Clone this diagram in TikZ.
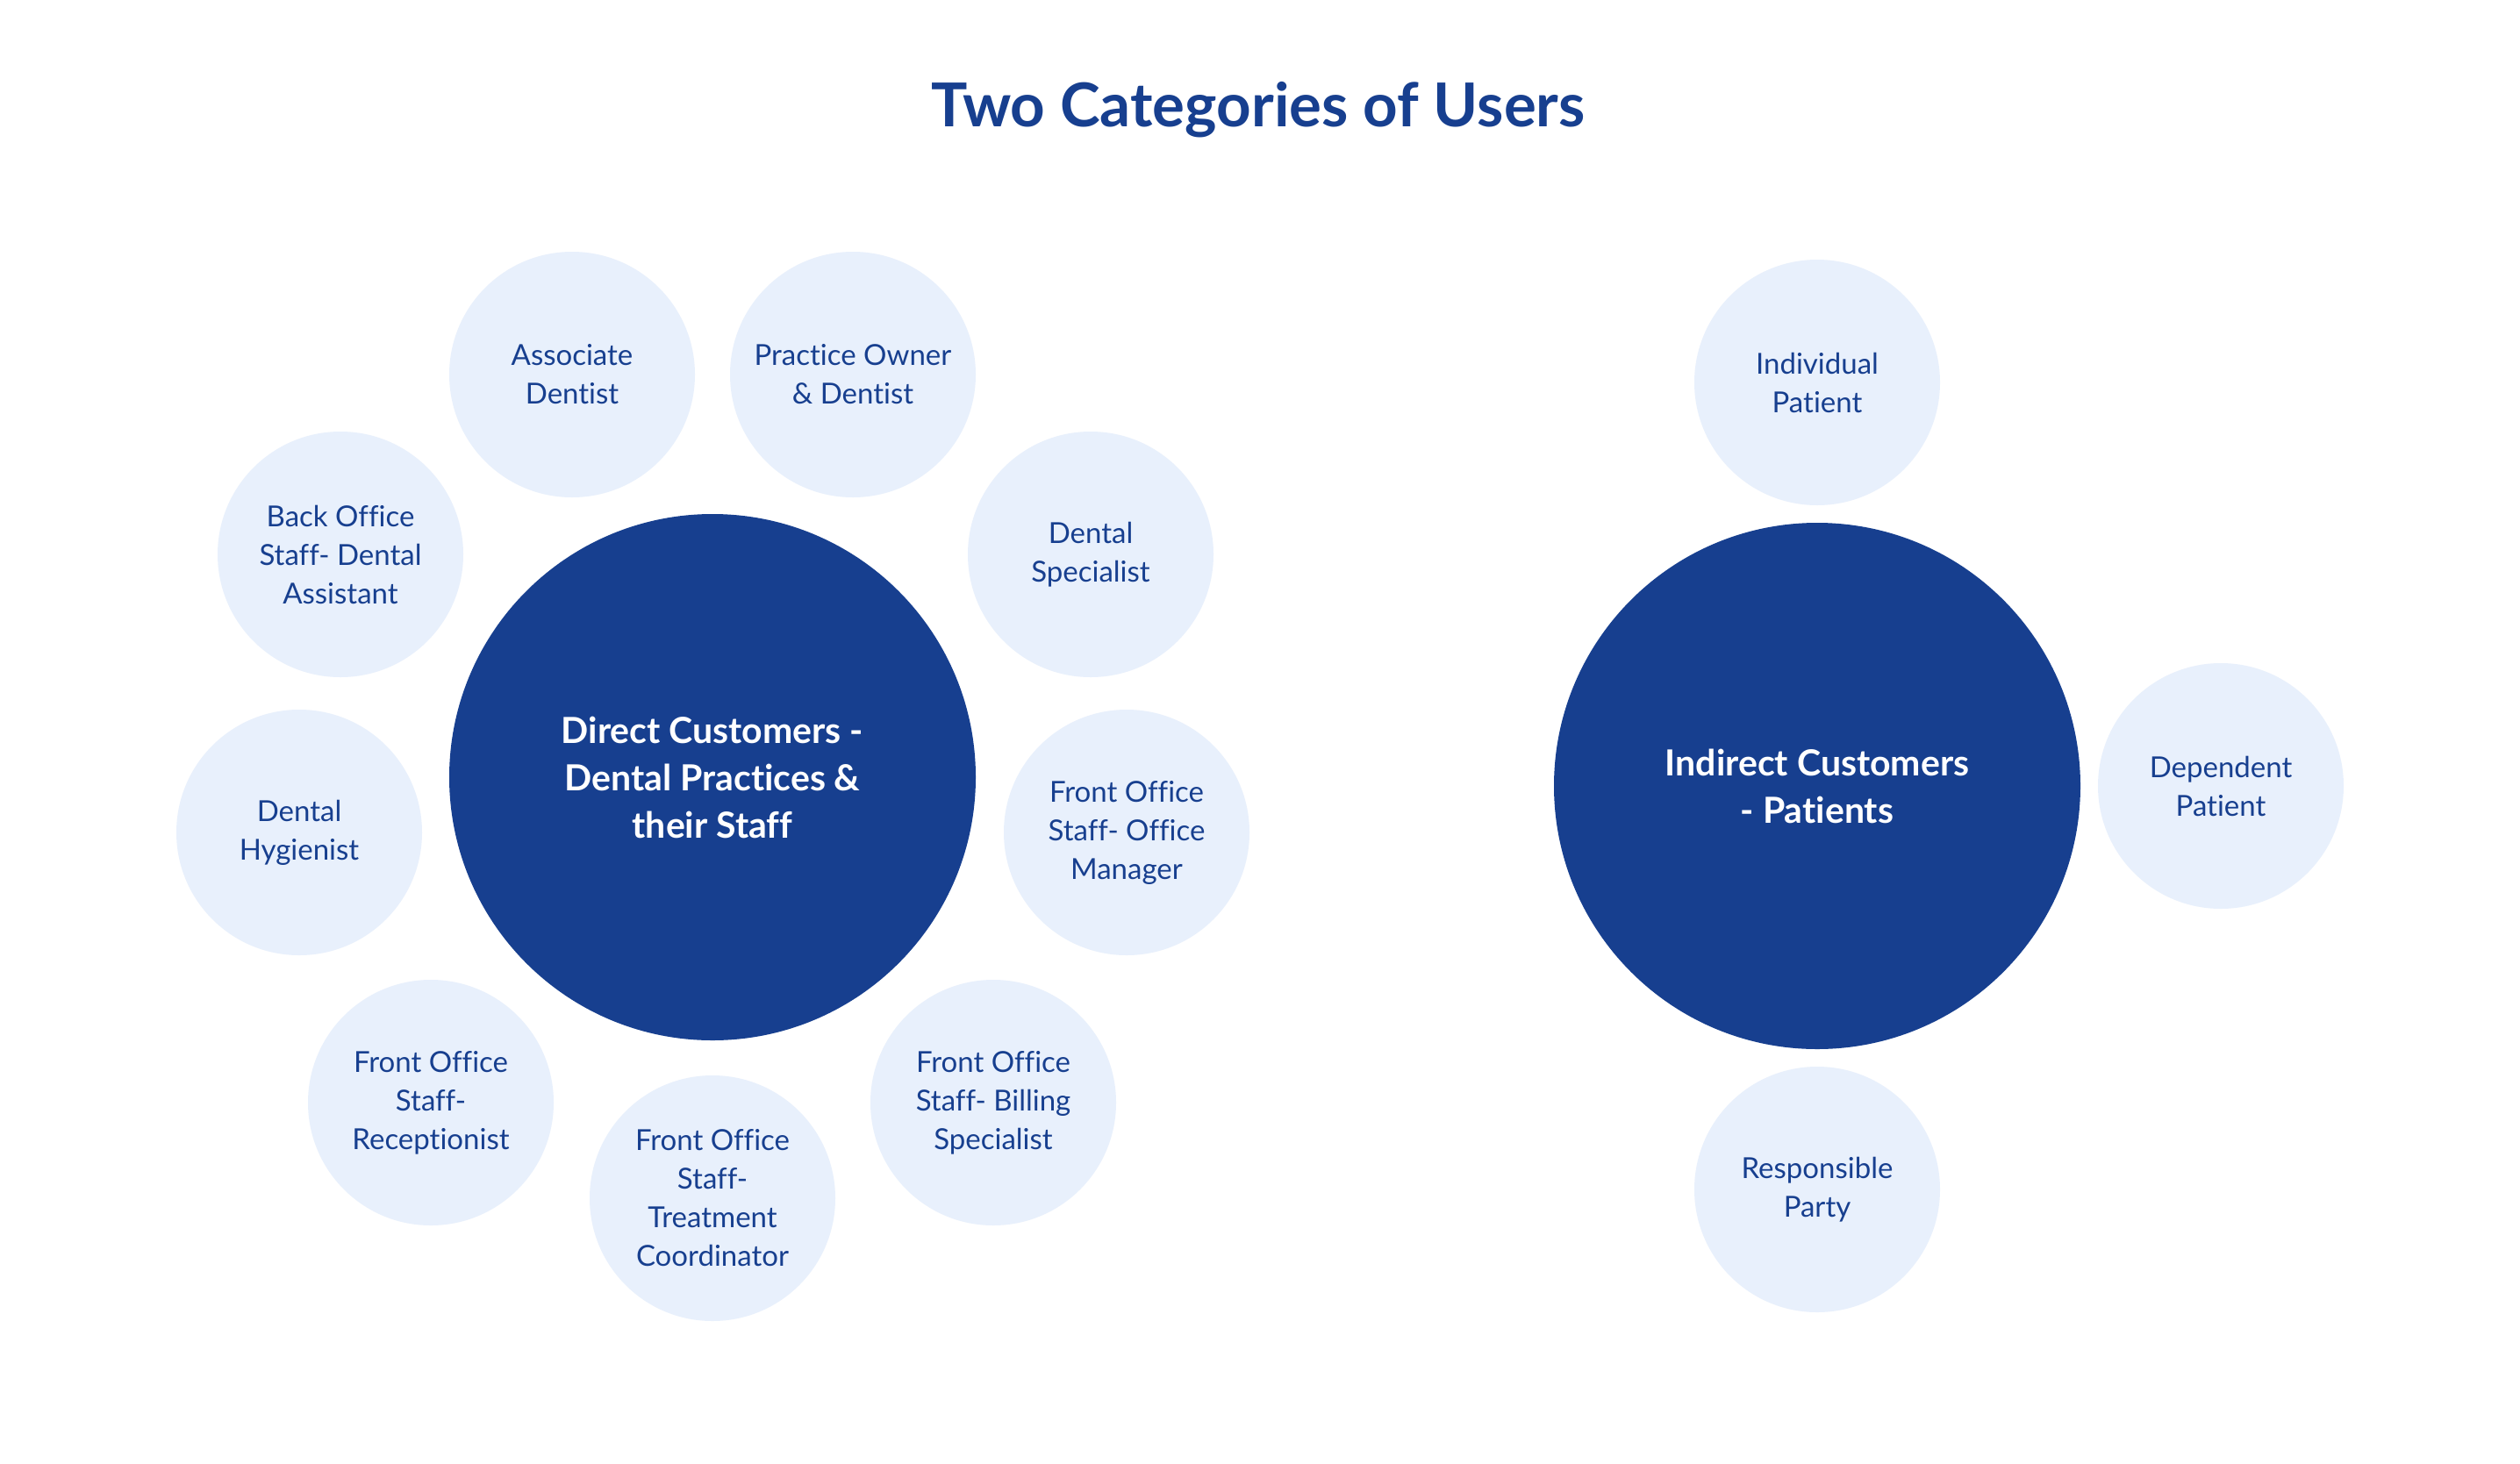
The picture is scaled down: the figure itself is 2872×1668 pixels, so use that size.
\documentclass[tikz,border=0pt]{standalone}
\usepackage{fontspec}
\setmainfont{Lato}[Ligatures={NoCommon}]
\definecolor{navy}{HTML}{173F8F}
\definecolor{pale}{HTML}{E8F0FC}
\begin{document}
\begin{tikzpicture}[x=1pt,y=-1pt,
  hub/.style={circle,fill=navy,minimum size=600pt,inner sep=0pt,text=white,align=center,
    font=\fontsize{41}{54}\selectfont\bfseries},
  sat/.style={circle,fill=pale,minimum size=280pt,inner sep=0pt,text=navy,align=center,
    font=\fontsize{33}{44}\selectfont},
  ttl/.style={text=navy,font=\fontsize{69}{74}\selectfont\bfseries,anchor=base,inner sep=0pt}]
\useasboundingbox (0,0) rectangle (2872,1668);
\fill[white] (0,0) rectangle (2872,1668);
\node[ttl] (title) at (1434,144) {Two Categories of Users};
% left group
\node[hub] (direct) at (812,886) {Direct Customers -\\Dental Practices \&\\their Staff};
\node[sat] (assoc) at (652,427) {Associate\\Dentist};
\node[sat] (owner) at (972,427) {Practice Owner\\\& Dentist};
\node[sat] (back) at (388,632) {Back Office\\Staff- Dental\\Assistant};
\node[sat] (spec) at (1243,632) {Dental\\Specialist};
\node[sat] (hyg) at (341,949) {Dental\\Hygienist};
\node[sat] (mgr) at (1284,949) {Front Office\\Staff- Office\\Manager};
\node[sat] (recep) at (491,1257) {Front Office\\Staff-\\Receptionist};
\node[sat] (treat) at (812,1366) {Front Office\\Staff-\\Treatment\\Coordinator};
\node[sat] (bill) at (1132,1257) {Front Office\\Staff- Billing\\Specialist};
% right group
\node[hub] (indirect) at (2071,896) {Indirect Customers\\- Patients};
\node[sat] (indiv) at (2071,436) {Individual\\Patient};
\node[sat] (dep) at (2531,896) {Dependent\\Patient};
\node[sat] (resp) at (2071,1356) {Responsible\\Party};
\end{tikzpicture}
\end{document}
